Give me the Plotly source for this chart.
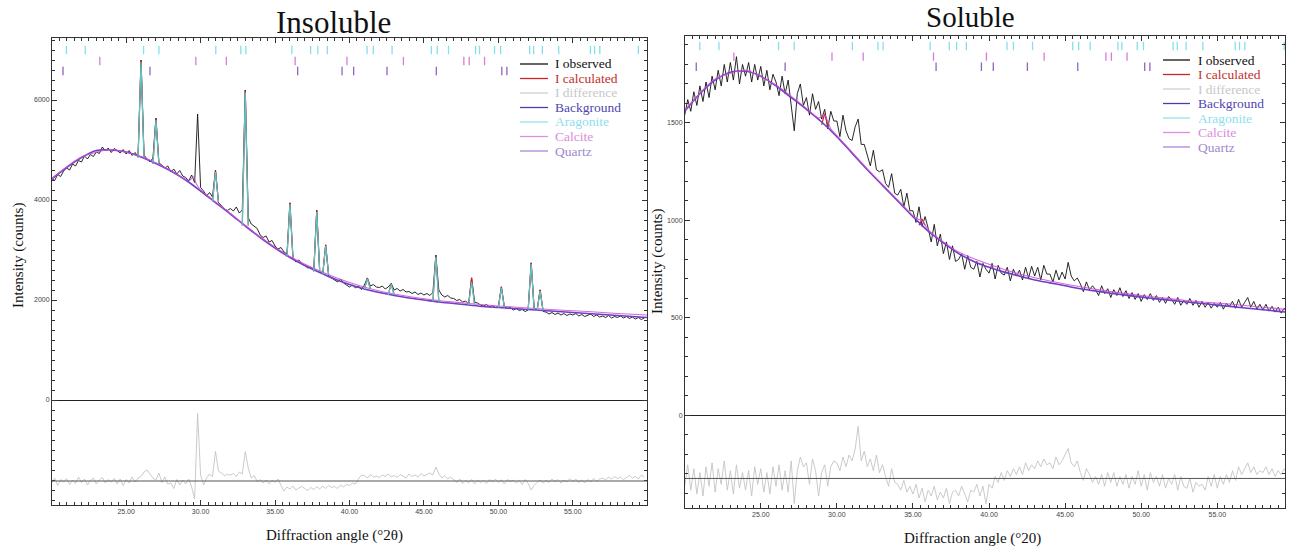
import numpy as np
import plotly.graph_objects as go

W, H = 1289, 550

# ---------------------------------------------------------------- data
# measurement grid (°2θ) shared by observed / difference series
two_theta = np.round(20.0 + 0.2 * np.arange(200), 1)   # 20.0 … 59.8
# background refinement nodes (°2θ)
bg_two_theta = list(range(20, 61))

# ---- Insoluble fraction
ins_observed = [
    4430, 4390, 4510, 4470, 4580,  4640, 4600, 4720, 4680, 4790,
    4760, 4880, 4820, 4910, 4870,  4960, 4930, 5060, 4980, 5040,
    4950, 5030, 4990, 4940, 5010,  4920, 4990, 4890, 4950, 4860,
    6800, 4900, 4820, 4760, 4840,  5640, 4740, 4700, 4640, 4680,
    4560, 4620, 4520, 4590, 4480,  4450, 4380, 4500, 4350, 5720,
    4250, 4180, 4080, 4150, 4060,  4600, 3950, 3880, 3820, 3790,
    3830, 3780, 3860, 3740, 3800,  6200, 3650, 3520, 3480, 3430,
    3300, 3250, 3280, 3160, 3190,  3080, 3020, 3050, 2960, 2920,
    3940, 2840, 2760, 2800, 2720,  2690, 2640, 2660, 2580, 3800,
    2560, 2520, 3100, 2480, 2440,  2400, 2360, 2420, 2340, 2300,
    2260, 2300, 2240, 2280, 2210,  2300, 2440, 2280, 2310, 2260,
    2250, 2280, 2220, 2260, 2330,  2200, 2230, 2180, 2210, 2160,
    2170, 2130, 2160, 2110, 2140,  2100, 2130, 2090, 2150, 2900,
    2200, 2100, 2060, 2090, 2040,  2030, 1990, 2010, 1960, 1980,
    1920, 2440, 1960, 1940, 1900,  1880, 1910, 1860, 1890, 1850,
    1870, 2260, 1860, 1830, 1850,  1800, 1830, 1790, 1810, 1770,
    1800, 2740, 1840, 1800, 2200,  1770, 1760, 1720, 1750, 1710,
    1740, 1700, 1730, 1690, 1720,  1700, 1730, 1680, 1710, 1670,
    1690, 1720, 1670, 1700, 1660,  1680, 1650, 1690, 1640, 1670,
    1650, 1680, 1640, 1670, 1630,  1660, 1620, 1650, 1610, 1640,
]
ins_difference = [
    -40, 60, -90, 30, -20,   50, -70, 20, -50, 80,
    -30, 40, -80, 10, 60,   -60, 20, 70, -40, 30,
    -20, 50, -60, 40, -90,   30, -40, 80, -20, 60,
    90, 180, 220, 140, 60,   20, 160, -30, 80, -60,
    -40, -150, 30, -80, 20,  -60, 40, -120, -360, 1350,
    120, -80, 60, 140, 90,   590, 200, 160, 110, 130,
    120, 150, 90, 180, 140,  587, 260, 60, 110, -10,
    30, -40, 20, -60, 10,    -30, 40, -90, -200, -120,
    -160, -100, -180, -140, -110,  -150, -190, -130, -170, -120,
    -160, -100, -150, -90, -130,   -110, -150, -80, -120, -70,
    -90, -40, -60, 40, 120,  110, 60, 130, 80, 100,
    70, 120, 90, 140, 80,    110, 70, 130, 100, 60,
    140, 90, 120, 80, 150,   100, 130, 160, 120, 280,
    140, 60, 110, 40, 80,    20, -30, 40, -50, 10,
    -40, 30, -60, 20, -30,   10, -50, 30, -20, 40,
    -30, 20, -60, 30, -10,   20, -40, 10, -70, 30,
    -50, -180, -90, -30, 20, -40, 10, -30, 40, -20,
    30, -40, 20, -20, 50,    -10, 40, -30, 20, -40,
    30, -20, 50, -10, 40,    60, 20, 80, 40, 90,
    50, 80, 30, 70, 110,     60, 90, 40, 120, 80,
]
ins_background = [
    4420, 4650, 4850, 4990, 5000, 4960, 4860, 4730, 4580, 4400,
    4180, 3950, 3720, 3480, 3250, 3040, 2850, 2690, 2550, 2420,
    2310, 2220, 2150, 2090, 2040, 2000, 1960, 1930, 1900, 1870,
    1850, 1830, 1810, 1790, 1770, 1750, 1730, 1710, 1690, 1670, 1650,
]
ins_arag_pos = [26.0, 27.0, 31.0, 33.0, 36.0, 37.8, 38.4, 41.2, 42.8, 45.8, 48.2, 50.2, 52.2, 52.8]
ins_arag_top = [6760, 5600, 4560, 6150, 3920, 3760, 3080, 2420, 2310, 2860, 2360, 2240, 2720, 2180]
ins_arag_base = [4850, 4720, 3960, 3490, 2860, 2570, 2500, 2220, 2100, 1970, 1900, 1850, 1810, 1790]
ins_calc_top = [6790, 5630, 4590, 6190, 3950, 3790, 3110, 2440, 2330, 2890, 2450, 2270, 2750, 2210]
ins_calcite_x = [20, 22, 24, 26, 28, 29.0, 29.3, 29.5, 29.7, 30.0, 31, 32, 34, 36, 38,
                 40, 42, 44, 46, 48, 50, 52, 54, 56, 58, 60]
ins_calcite_y = [4430, 4860, 5010, 4870, 4590, 4410, 4400, 4465, 4330, 4200, 3960, 3730,
                 3260, 2870, 2580, 2350, 2180, 2070, 1990, 1930, 1880, 1840, 1800, 1770, 1730, 1700]

# ---- Soluble fraction
sol_observed = [
    1540, 1620, 1560, 1660, 1590,  1690, 1610, 1710, 1630, 1740,
    1670, 1770, 1690, 1800, 1710,  1810, 1720, 1840, 1700, 1800,
    1740, 1810, 1710, 1800, 1720,  1790, 1690, 1770, 1670, 1750,
    1710, 1640, 1740, 1650, 1720,  1600, 1460, 1650, 1700, 1590,
    1630, 1540, 1650, 1570, 1610,  1520, 1570, 1470, 1560, 1510,
    1510, 1430, 1540, 1460, 1420,  1410, 1480, 1520, 1390, 1390,
    1340, 1280, 1360, 1260, 1250,  1260, 1190, 1170, 1240, 1140,
    1130, 1160, 1070, 1140, 1050,  1050, 990, 1070, 970, 1020,
    960, 890, 980, 870, 930,       830, 890, 800, 870, 790,
    800, 830, 750, 820, 760,       750, 790, 710, 780, 750,
    730, 780, 700, 770, 730,       720, 760, 690, 750, 715,
    745, 695, 760, 705, 765,       715, 760, 695, 770, 725,
    725, 685, 745, 695, 735,       700, 785, 715, 690, 705,
    675, 635, 685, 645, 665,       645, 615, 665, 625, 650,
    605, 645, 615, 655, 610,       640, 600, 630, 595, 625,
    585, 620, 595, 625, 590,       615, 580, 605, 575, 610,
    595, 570, 605, 565, 590,       570, 600, 565, 590, 555,
    585, 555, 580, 550, 575,       555, 580, 545, 575, 560,
    585, 550, 595, 555, 580,       605, 555, 585, 545, 570,
    540, 570, 535, 560, 530,       555, 525, 550, 520, 545,
]
sol_difference = [
    -40, 70, -60, 50, -80,   30, -90, 60, -40, 80,
    -70, 50, -30, 90, -60,   40, -80, 70, -50, 30,
    -60, 40, -90, 60, -30,   50, -70, 30, -80, 60,
    -40, 70, -60, 40, -70,   90, -128, 40, 110, 60,
    80, -30, 100, 40, -90,   30, 70, -40, 60, 90,
    80, 40, 110, 60, 120,    90, 150, 267, 90, 140,
    60, 100, 40, 120, 30,    70, 10, -40, 50, -20,
    -30, -60, -10, -70, -40, -80, -30, -100, -50, -120,
    -60, -90, -40, -110, -70, -100, -50, -130, -70, -60,
    -90, -40, -80, -120, -60, -70, -30, -90, -40, -130,
    -30, -50, 10, -20, 30,   -10, 40, 10, 50, 20,
    60, 20, 80, 40, 70,      50, 90, 60, 100, 70,
    80, 50, 110, 70, 90,     120, 154, 80, 60, 90,
    30, -10, 50, 20, -20,    10, -30, 20, -40, 30,
    -20, 30, -40, 10, -30,   20, -50, 10, -30, 40,
    -40, 20, -60, 30, -20,   10, -40, 20, -50, 0,
    -30, 20, -60, 10, -40,   -50, 0, -70, -20, -40,
    -30, -60, 10, -40, 20,   -50, 10, -30, 20, -20,
    40, -10, 60, 20, 50,     80, 30, 60, 20, 40,
    30, 60, 20, 50, 10,      40, 20, 50, 30, 40,
]
sol_background = [
    1560, 1650, 1720, 1760, 1765, 1740, 1690, 1630, 1570, 1505,
    1430, 1345, 1260, 1180, 1100, 1020, 945, 885, 830, 790,
    760, 735, 715, 695, 680, 665, 650, 638, 627, 617,
    607, 598, 590, 582, 574, 566, 558, 550, 542, 534, 526,
]
sol_calcite_x = [20, 22, 24, 26, 28, 28.8, 29.2, 29.6, 30.0, 31, 32, 34, 35.2, 35.6, 36.0,
                 37, 38, 40, 42, 44, 46, 48, 50, 52, 54, 56, 58, 60]
sol_calcite_y = [1565, 1725, 1770, 1695, 1575, 1525, 1540, 1470, 1435, 1350, 1265, 1105,
                 1010, 1000, 952, 890, 838, 775, 725, 690, 660, 635, 615, 598, 582, 570, 555, 540]
sol_calc_pos = [29.2, 35.6]
sol_calc_top = [1548, 1008]
sol_calc_base = [1490, 975]

# ---- reflection positions (°2θ) of the refined phases
aragonite_refl = [20.99, 22.25, 26.17, 27.2, 31.02, 32.7, 33.04, 36.13, 37.39, 37.87, 38.51,
                  41.18, 41.6, 42.86, 45.5, 45.89, 46.65, 48.47, 48.73, 49.74, 50.15,
                  52.1, 52.37, 52.95, 54.05, 56.18, 56.46, 56.81, 59.4]
calcite_refl = [23.23, 29.68, 31.73, 36.35, 39.83, 43.62, 47.68, 48.04, 49.07]
quartz_refl = [20.76, 26.6, 36.52, 39.5, 40.28, 42.52, 45.83, 50.23, 50.57]

# ---------------------------------------------------------------- styles
C_OBS = "#111111"
C_CALC = "#cc2424"
C_DIFF = "#c4c4c4"
C_BG = "#6a40c4"
C_ARAG = "#55c8cc"
C_CALCITE = "#d24fd2"
SERIF = "Liberation Serif, Times New Roman, serif"
SANS = "Liberation Sans, Arial, sans-serif"


def peak_path(pos, top, base, half=0.2):
    xs, ys = [], []
    for p, t, b in zip(pos, top, base):
        xs += [p - half, p, p + half, None]
        ys += [b, t, b, None]
    return xs, ys


fig = go.Figure()


def add_panel(xa, ya, observed, difference, diff_offset, background,
              calcite_x, calcite_y, calc_path, arag_path, tick_rows):
    fig.add_trace(go.Scatter(x=two_theta, y=observed, mode="lines",
                             line=dict(color=C_OBS, width=0.9), xaxis=xa, yaxis=ya))
    if calc_path is not None:
        fig.add_trace(go.Scatter(x=calc_path[0], y=calc_path[1], mode="lines",
                                 line=dict(color=C_CALC, width=1.2), xaxis=xa, yaxis=ya))
    fig.add_trace(go.Scatter(x=bg_two_theta, y=background, mode="lines",
                             line=dict(color=C_BG, width=1.6, shape="spline", smoothing=0.8),
                             xaxis=xa, yaxis=ya))
    fig.add_trace(go.Scatter(x=calcite_x, y=calcite_y, mode="lines", opacity=0.85,
                             line=dict(color=C_CALCITE, width=1.1, shape="spline", smoothing=0.6),
                             xaxis=xa, yaxis=ya))
    if arag_path is not None:
        fig.add_trace(go.Scatter(x=arag_path[0], y=arag_path[1], mode="lines",
                                 line=dict(color=C_ARAG, width=1.2), xaxis=xa, yaxis=ya))
    fig.add_trace(go.Scatter(x=two_theta, y=np.array(difference) + diff_offset, mode="lines",
                             line=dict(color=C_DIFF, width=0.9), xaxis=xa, yaxis=ya))
    for refl, ypos, col in zip([aragonite_refl, calcite_refl, quartz_refl], tick_rows,
                               ["#86e0e8", "#d87cd8", "#9066bc"]):
        fig.add_trace(go.Scatter(x=refl, y=[ypos] * len(refl), mode="markers",
                                 marker=dict(symbol="line-ns", size=6,
                                             line=dict(color=col, width=1.3)),
                                 xaxis=xa, yaxis=ya))


add_panel("x", "y", ins_observed, ins_difference, -1620, ins_background,
          ins_calcite_x, ins_calcite_y,
          peak_path(ins_arag_pos, ins_calc_top, ins_arag_base),
          peak_path(ins_arag_pos, ins_arag_top, ins_arag_base),
          [7000, 6780, 6580])
add_panel("x2", "y2", sol_observed, sol_difference, -323, sol_background,
          sol_calcite_x, sol_calcite_y,
          peak_path(sol_calc_pos, sol_calc_top, sol_calc_base),
          None,
          [1895, 1840, 1788])

axis_common = dict(showline=True, linecolor="#333", linewidth=1, mirror="allticks",
                   showgrid=False, ticks="inside", tickcolor="#333",
                   tickfont=dict(family=SANS, size=7, color="#444"))

xt = [25, 30, 35, 40, 45, 50, 55]
xaxis_common = dict(axis_common, tickmode="array", tickvals=xt,
                    ticktext=[f"{v:.2f}" for v in xt], ticklen=5, zeroline=False,
                    minor=dict(tickmode="linear", tick0=0, dtick=0.5, ticks="inside",
                               ticklen=3, tickcolor="#333"))

fig.update_layout(
    width=W, height=H, margin=dict(l=0, r=0, t=0, b=0),
    paper_bgcolor="white", plot_bgcolor="white", showlegend=False,
    xaxis=dict(xaxis_common, domain=[52 / W, 647 / W], range=[20.02, 59.98], anchor="y"),
    yaxis=dict(axis_common, domain=[1 - 505 / H, 1 - 38 / H], range=[-2100, 7240],
               anchor="x", tickmode="array", tickvals=[0, 2000, 4000, 6000], ticklen=5,
               zeroline=True, zerolinecolor="#222", zerolinewidth=1,
               minor=dict(tickmode="linear", tick0=0, dtick=200, ticks="inside",
                          ticklen=3, tickcolor="#333")),
    xaxis2=dict(xaxis_common, domain=[685 / W, 1285 / W], range=[20.02, 59.45], anchor="y2"),
    yaxis2=dict(axis_common, domain=[1 - 507.7 / H, 1 - 36 / H], range=[-473, 1946],
                anchor="x2", tickmode="array", tickvals=[0, 500, 1000, 1500], ticklen=5,
                zeroline=True, zerolinecolor="#222", zerolinewidth=1,
                minor=dict(tickmode="linear", tick0=0, dtick=100, ticks="inside",
                           ticklen=3, tickcolor="#333")),
)

shapes = [
    dict(type="line", xref="x domain", x0=0, x1=1, yref="y", y0=-1620, y1=-1620,
         line=dict(color="#555", width=1)),
    dict(type="line", xref="x2 domain", x0=0, x1=1, yref="y2", y0=-323, y1=-323,
         line=dict(color="#555", width=1)),
]
annotations = []


def px(xp):
    return xp / W


def py(yp):
    return 1 - yp / H


def text(x, y, s, size, color="#111", angle=0, xanchor="center", family=SERIF):
    annotations.append(dict(xref="paper", yref="paper", x=px(x), y=py(y), text=s,
                            showarrow=False, textangle=angle, xanchor=xanchor,
                            yanchor="middle", font=dict(family=family, size=size, color=color)))


text(333, 22, "Insoluble", 31)
text(970, 17, "Soluble", 29)
text(18, 256, "Intensity (counts)", 15, angle=-90)
text(657, 262, "Intensity (counts)", 15, angle=-90)
text(334, 535, "Diffraction angle (°2θ)", 15)
text(972, 538, "Diffraction angle (°20)", 15)

legend_items = [("I observed", "#111111", "#111111"),
                ("I calculated", C_CALC, "#c0302a"),
                ("I difference", "#cfcfcf", "#c8c8c8"),
                ("Background", "#4b3fae", "#5246b0"),
                ("Aragonite", "#92e4ea", "#8ee0ea"),
                ("Calcite", "#e08ce0", "#dc8cdc"),
                ("Quartz", "#a68ad6", "#a088d0")]
for (lx0, lx1, tx, y0) in [(520, 548, 553, 64), (1163, 1190, 1196, 60)]:
    for i, (name, lc, tc) in enumerate(legend_items):
        yy = y0 + i * 14.5
        shapes.append(dict(type="line", xref="paper", yref="paper", x0=px(lx0), x1=px(lx1),
                           y0=py(yy), y1=py(yy), line=dict(color=lc, width=1.3)))
        text(tx, yy, name, 13.5, color=tc, xanchor="left")

fig.update_layout(shapes=shapes, annotations=annotations)
fig.write_html("out.html")
